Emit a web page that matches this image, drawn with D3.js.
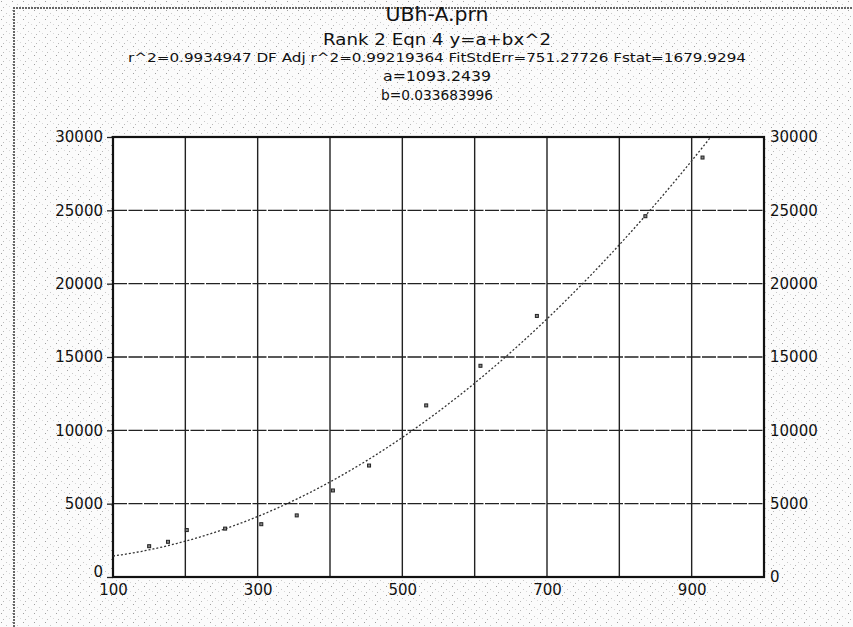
<!DOCTYPE html>
<html>
<head>
<meta charset="utf-8">
<script src="https://cdn.jsdelivr.net/npm/d3@7/dist/d3.min.js"></script>
<style>
  body { margin: 0; background: #fff; }
  svg { display: block; font-family: "DejaVu Sans", sans-serif; }
</style>
</head>
<body>
<div id="chart"></div>
<script>
// measured points
const xValues = [150, 176, 202, 255, 305, 354, 404, 454, 533, 608, 686, 836, 915];
const yValues = [2100, 2400, 3200, 3300, 3600, 4200, 5900, 7600, 11700, 14400, 17800, 24600, 28600];

// fit y = a + b*x^2 as printed in the header
const fitA = 1093.2439;
const fitB = 0.033683996;

const xTickLabels = [100, 300, 500, 700, 900];
const xGrid = [200, 300, 400, 500, 600, 700, 800, 900];
const yTicks = [0, 5000, 10000, 15000, 20000, 25000, 30000];

const titleLines = [
    "UBh-A.prn",
    "Rank 2  Eqn 4  y=a+bx^2",
    "r^2=0.9934947  DF Adj r^2=0.99219364  FitStdErr=751.27726  Fstat=1679.9294",
    "a=1093.2439",
    "b=0.033683996"
];

const width = 853, height = 627;
const plot = { left: 113, right: 764, top: 137, bottom: 577 };

const svg = d3.select("#chart").append("svg")
    .attr("width", width)
    .attr("height", height);

// speckled scan background
const defs = svg.append("defs");
const pat = defs.append("pattern")
    .attr("id", "speck")
    .attr("width", 11).attr("height", 9)
    .attr("patternUnits", "userSpaceOnUse");
pat.append("rect").attr("width", 11).attr("height", 9).attr("fill", "#fbfbfb");
[[1, 1, "#a0a0a0"], [6, 4, "#c8c8c8"], [3, 7, "#b8b8b8"], [9, 6, "#d8d8d8"]]
    .forEach(([px, py, c]) => pat.append("rect").attr("x", px).attr("y", py)
        .attr("width", 1).attr("height", 1).attr("fill", c));

svg.append("rect").attr("width", width).attr("height", height).attr("fill", "url(#speck)");

// page border (left and top)
svg.append("path")
    .attr("d", `M14,${height} V8 H${width}`)
    .attr("fill", "none")
    .attr("stroke", "#666")
    .attr("stroke-width", 2)
    .attr("stroke-dasharray", "2,1");

const x = d3.scaleLinear().domain([100, 1000]).range([plot.left, plot.right]);
const y = d3.scaleLinear().domain([0, 30000]).range([plot.bottom, plot.top]);

svg.append("rect")
    .attr("x", plot.left).attr("y", plot.top)
    .attr("width", plot.right - plot.left)
    .attr("height", plot.bottom - plot.top)
    .attr("fill", "#fff");

defs.append("clipPath").attr("id", "clip")
    .append("rect")
    .attr("x", plot.left).attr("y", plot.top)
    .attr("width", plot.right - plot.left)
    .attr("height", plot.bottom - plot.top);

// grid
svg.append("g").selectAll("line")
    .data(xGrid).join("line")
    .attr("x1", d => x(d)).attr("x2", d => x(d))
    .attr("y1", plot.top).attr("y2", plot.bottom)
    .attr("stroke", "#222").attr("stroke-width", 1.4);

svg.append("g").selectAll("line")
    .data(yTicks.slice(1, -1)).join("line")
    .attr("x1", plot.left).attr("x2", plot.right)
    .attr("y1", d => y(d)).attr("y2", d => y(d))
    .attr("stroke", "#222").attr("stroke-width", 1.3)
    .attr("stroke-dasharray", "14,1.5");

// axes
const fmt = d3.format("d");
svg.append("g")
    .attr("transform", `translate(${plot.left},0)`)
    .call(d3.axisLeft(y).tickValues(yTicks).tickFormat(fmt).tickSize(6).tickPadding(4))
    .call(g => g.select(".domain").remove())
    .call(g => g.selectAll(".tick text").filter(d => d === 0).attr("dy", "-0.05em"));

svg.append("g")
    .attr("transform", `translate(${plot.right},0)`)
    .call(d3.axisRight(y).tickValues(yTicks).tickFormat(fmt).tickSize(0).tickPadding(6))
    .call(g => g.select(".domain").remove());

svg.append("g")
    .attr("transform", `translate(0,${plot.bottom})`)
    .call(d3.axisBottom(x).tickValues(xTickLabels).tickFormat(fmt).tickSize(0).tickPadding(7))
    .call(g => g.select(".domain").remove());

svg.selectAll(".tick text")
    .attr("font-family", "DejaVu Sans, sans-serif")
    .attr("font-size", 15)
    .attr("fill", "#111");
svg.selectAll(".tick line").attr("stroke", "#222").attr("stroke-width", 1.3);

svg.append("rect")
    .attr("x", plot.left).attr("y", plot.top)
    .attr("width", plot.right - plot.left)
    .attr("height", plot.bottom - plot.top)
    .attr("fill", "none")
    .attr("stroke", "#111").attr("stroke-width", 2.2);

// fitted curve
const curveX = d3.range(100, 1001, 4);
const line = d3.line()
    .x(d => x(d))
    .y(d => y(fitA + fitB * d * d));

svg.append("path")
    .datum(curveX)
    .attr("clip-path", "url(#clip)")
    .attr("d", line)
    .attr("fill", "none")
    .attr("stroke", "#333")
    .attr("stroke-width", 1.3)
    .attr("stroke-dasharray", "2,2");

// data points
svg.append("g").selectAll("rect")
    .data(xValues.map((v, i) => [v, yValues[i]]))
    .join("rect")
    .attr("x", d => x(d[0]) - 1.5)
    .attr("y", d => y(d[1]) - 1.5)
    .attr("width", 3).attr("height", 3)
    .attr("fill", "#888")
    .attr("stroke", "#222")
    .attr("stroke-width", 1);

// header text
const titleY = [21, 45, 62, 81, 100];
const titleSize = [19, 15, 12.5, 14, 14];
const titleLen = [103, 228, 618, 108, 112];
svg.append("g").selectAll("text")
    .data(titleLines).join("text")
    .attr("x", 437)
    .attr("y", (d, i) => titleY[i])
    .attr("text-anchor", "middle")
    .attr("font-size", (d, i) => titleSize[i])
    .attr("textLength", (d, i) => titleLen[i])
    .attr("lengthAdjust", "spacingAndGlyphs")
    .attr("fill", "#111")
    .text(d => d);
</script>
</body>
</html>
